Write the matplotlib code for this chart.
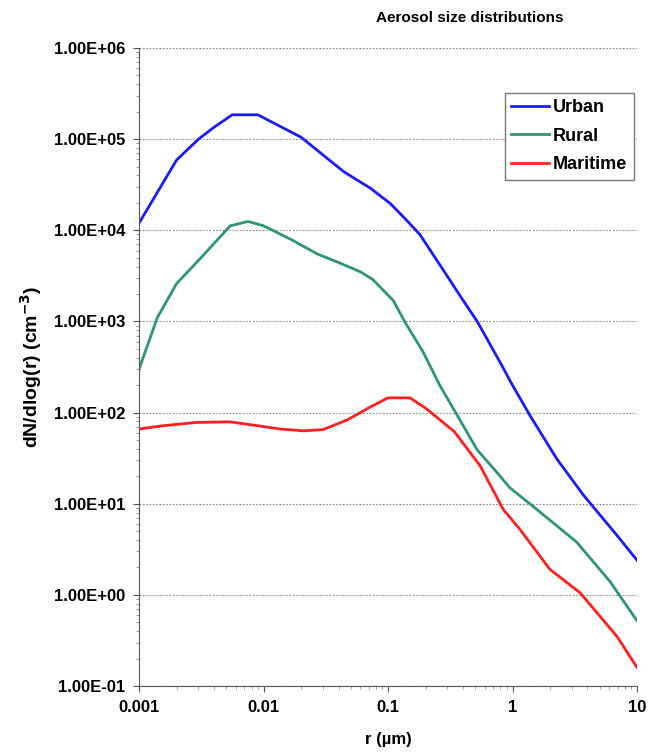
import matplotlib
matplotlib.use("Agg")
import matplotlib.pyplot as plt
from matplotlib.ticker import LogLocator, NullFormatter

plt.rcParams['font.family'] = ['Liberation Sans', 'DejaVu Sans']
plt.rcParams['font.weight'] = 'bold'

# values (r in um, dN/dlog(r) in cm^-3)
urban_r = [0.001, 0.0014, 0.002, 0.003, 0.004, 0.0056, 0.009, 0.02, 0.044, 0.072,
           0.105, 0.14, 0.18, 0.28, 0.38, 0.52, 0.66, 0.84, 0.96, 1.38,
           2.27, 3.7, 6.9, 10]
urban_n = [1.2e4, 2.6e4, 5.9e4, 1.0e5, 1.35e5, 1.85e5, 1.85e5, 1.05e5, 4.4e4, 2.9e4,
           1.95e4, 1.3e4, 9.0e3, 3.6e3, 1.9e3, 1.0e3, 5.6e2, 3.1e2, 2.2e2, 9.3e1,
           3.1e1, 1.25e1, 4.5, 2.4]

rural_r = [0.001, 0.0014, 0.002, 0.0031, 0.0054, 0.0075, 0.01, 0.017, 0.027, 0.039,
           0.06, 0.075, 0.11, 0.14, 0.19, 0.26, 0.36, 0.52, 0.75, 0.95,
           1.56, 3.27, 6.07, 10]
rural_n = [3.0e2, 1.1e3, 2.6e3, 4.9e3, 1.12e4, 1.25e4, 1.12e4, 7.8e3, 5.5e3, 4.5e3,
           3.5e3, 2.9e3, 1.7e3, 9.3e2, 4.7e2, 2.0e2, 9.3e1, 3.9e1, 2.2e1, 1.5e1,
           8.7, 3.8, 1.4, 0.52]

maritime_r = [0.001, 0.0016, 0.0029, 0.0054, 0.0088, 0.0136, 0.021, 0.03, 0.047, 0.072,
              0.1, 0.15, 0.2, 0.34, 0.55, 0.84, 1.15, 2.0, 3.5, 6.9, 10]
maritime_n = [66, 72, 78, 79, 72, 66, 63, 65, 83, 115,
              145, 145, 112, 62, 26, 8.7, 5.2, 1.9, 1.05, 0.35, 0.16]

x_ticks = [0.001, 0.01, 0.1, 1, 10]
x_ticklabels = ['0.001', '0.01', '0.1', '1', '10']
y_ticks = [1e-1, 1e0, 1e1, 1e2, 1e3, 1e4, 1e5, 1e6]
y_ticklabels = ['1.00E-01', '1.00E+00', '1.00E+01', '1.00E+02',
                '1.00E+03', '1.00E+04', '1.00E+05', '1.00E+06']

labels = ['Urban', 'Rural', 'Maritime']
colors = ['#1a1aff', '#2e9676', '#ff1f1f']

fig = plt.figure(figsize=(6.5, 7.56), dpi=100)
ax = fig.add_axes([0.214, 0.0926, 0.766, 0.8439])

ax.plot(urban_r, urban_n, color=colors[0], lw=2.0, label=labels[0])
ax.plot(rural_r, rural_n, color=colors[1], lw=2.0, label=labels[1])
ax.plot(maritime_r, maritime_n, color=colors[2], lw=2.0, label=labels[2])

ax.set_xscale('log')
ax.set_yscale('log')
ax.set_xlim(0.001, 10)
ax.set_ylim(0.1, 1e6)

ax.set_xticks(x_ticks, x_ticklabels)
ax.set_yticks(y_ticks, y_ticklabels)
ax.xaxis.set_minor_locator(LogLocator(base=10, subs=range(2, 10), numticks=10))
ax.yaxis.set_minor_locator(LogLocator(base=10, subs=range(2, 10), numticks=10))
ax.xaxis.set_minor_formatter(NullFormatter())
ax.yaxis.set_minor_formatter(NullFormatter())

ax.grid(axis='y', which='major', color='#888888', ls=(0, (1.5, 1.5)), lw=0.8)
ax.spines['top'].set_visible(False)
ax.spines['right'].set_visible(False)
for s in ['left', 'bottom']:
    ax.spines[s].set_color('#555555')
ax.tick_params(which='major', length=4, color='#555555', labelsize=12, pad=6)
ax.tick_params(which='minor', length=2.5, color='#888888')

ax.set_ylabel('dN/dlog(r) (cm$^{\\mathbf{-3}}$)', fontsize=14, fontweight='bold')
ax.yaxis.set_label_coords(-0.192, 0.5)
ax.set_xlabel('r (\u00b5m)', fontsize=12, fontweight='bold')
ax.xaxis.set_label_coords(0.5, -0.072)

fig.text(0.723, 0.976, 'Aerosol size distributions', ha='center', va='center',
         fontsize=11, fontweight='bold')

leg = ax.legend(loc='upper right', bbox_to_anchor=(0.993, 0.93), fancybox=False,
                framealpha=1, edgecolor='#777777', fontsize=13, borderaxespad=0,
                handlelength=2.1, handletextpad=0.2, borderpad=0.35, labelspacing=0.65)
leg.get_frame().set_linewidth(1.0)

fig.savefig('out.png', dpi=100)
